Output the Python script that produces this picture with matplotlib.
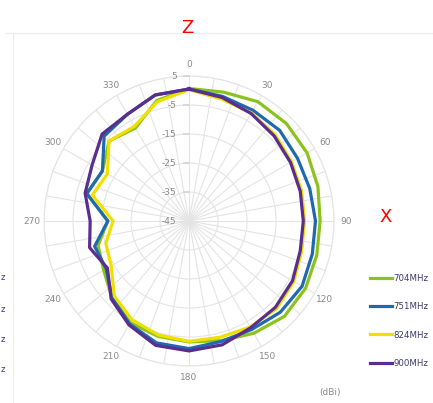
import numpy as np
import matplotlib
matplotlib.use("Agg")
import matplotlib.pyplot as plt

# measured gain (dBi) every 15 degrees
angles = list(range(0, 360, 15))
g704 = [0.7, 1.0, 2.5, 2.5, 2.0, 1.0, 0.2, 0.6, 1.4, 1.5, -0.3, -2.3,
        -3.3, -3.8, -4.5, -7.5, -11.0, -12.5, -17.0, -8.5, -10.5, -6.0, -8.0, -2.0]
g751 = [0.5, -0.5, -0.9, -0.8, -1.8, -1.9, -1.4, -1.0, 0.0, -0.5, -1.8, -2.0,
        -1.0, -1.5, -4.0, -7.5, -12.0, -11.3, -17.0, -8.5, -10.5, -3.6, -2.5, 0.0]
g824 = [0.3, -1.5, -2.0, -3.0, -4.2, -4.8, -5.2, -4.8, -3.3, -2.3, -2.8, -3.5,
        -3.5, -4.3, -5.7, -8.5, -14.0, -15.3, -18.8, -10.5, -12.5, -6.0, -7.3, -2.5]
g900 = [0.5, -0.9, -2.2, -3.5, -4.6, -5.3, -5.6, -5.3, -3.8, -2.9, -2.5, -0.8,
        -0.2, -0.6, -3.6, -7.0, -12.5, -9.5, -10.9, -7.9, -6.4, -2.6, -2.5, 0.0]
series_names = ["704MHz", "751MHz", "824MHz", "900MHz"]
series_vals = [g704, g751, g824, g900]
colors = ["#8cc21c", "#1f6aae", "#f0e000", "#5a2d8e"]

ring_vals = [-35, -25, -15, -5, 5]
ring_labels = ["5", "-5", "-15", "-25", "-35", "-45"]
ring_label_pos = [5, -5, -15, -25, -35, -45]

fig = plt.figure(figsize=(4.33, 4.03), dpi=100)
ax = fig.add_axes([0.1016, 0.0918, 0.670, 0.7196], projection="polar")
ax.set_theta_zero_location("N")
ax.set_theta_direction(-1)
ax.set_ylim(-45, 5)

th = np.deg2rad(angles + [angles[0]])
for name, vals, c in zip(series_names, series_vals, colors):
    ax.plot(th, vals + [vals[0]], color=c, lw=2.3, label=name)

spokes = list(range(0, 360, 10))
ax.set_thetagrids(spokes, [str(a) if a % 30 == 0 else "" for a in spokes],
                  color="#8a8a8a", fontsize=6.5)
ax.tick_params(axis="x", pad=-2)
ax.set_rgrids(ring_vals, labels=[""] * len(ring_vals))
ax.grid(color="#e4e4e4", lw=0.8)
ax.spines["polar"].set_color("#e4e4e4")
ax.spines["polar"].set_linewidth(0.8)

# value axis labels and tick marks along the 0 degree spoke
for v, lab in zip(ring_label_pos, ring_labels):
    ax.annotate(lab, xy=(0, v), xytext=(-9, 0), textcoords="offset points",
                ha="right", va="center", fontsize=6.5, color="#8a8a8a")
    if v > -45:
        ax.annotate("", xy=(0, v), xytext=(-4, 0), textcoords="offset points",
                    arrowprops=dict(arrowstyle="-", color="#c8c8c8", lw=0.8,
                                    shrinkA=0, shrinkB=0))

fig.legend(loc="upper left", bbox_to_anchor=(362 / 433, 1 - 266 / 403),
           frameon=False, fontsize=6.2, handlelength=2.6, labelspacing=2.25,
           handletextpad=0.1, labelcolor="#3b3b6b")

# frame of the original chart area
fig.add_artist(plt.Line2D([5 / 433, 1], [1 - 33 / 403] * 2, color="#ececec", lw=0.8))
fig.add_artist(plt.Line2D([13 / 433] * 2, [0, 1 - 33 / 403], color="#ececec", lw=0.8))

fig.text(187 / 433, 1 - 28 / 403, "Z", color="red", fontsize=13, ha="center", va="center")
fig.text(386 / 433, 1 - 217 / 403, "X", color="red", fontsize=13, ha="center", va="center")
fig.text(330 / 433, 1 - 392 / 403, "(dBi)", color="#8a8a8a", fontsize=6.5, ha="center", va="center")
for yy in [278, 309, 339, 370]:
    fig.text(1 / 433, 1 - yy / 403, "z", color="#3b3b8f", fontsize=6, ha="left", va="center")

fig.savefig("out.png", dpi=100)
